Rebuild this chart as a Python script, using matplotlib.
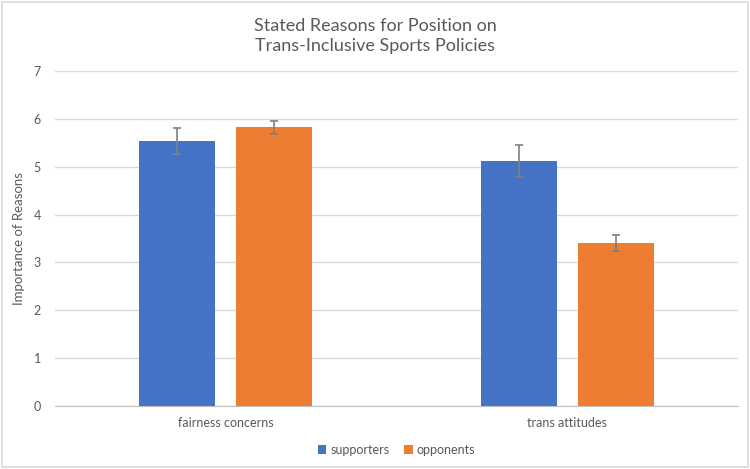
import numpy as np
import matplotlib.pyplot as plt
from matplotlib.patches import Rectangle

# Дані з графіка
categories = ['fairness concerns', 'trans attitudes']
supporters = [5.54, 5.12]
supporters_err = [0.27, 0.33]
opponents = [5.82, 3.41]
opponents_err = [0.14, 0.17]

plt.rcParams['font.family'] = ['Lato', 'DejaVu Sans']

fig = plt.figure(figsize=(7.5, 4.69), dpi=100)
ax = fig.add_axes([0.0733, 0.1343, 0.9107, 0.7143])

x = np.arange(len(categories))
w = 0.222
off = 0.142
err_kw = dict(ecolor='#7f7f7f', capsize=3, elinewidth=1.2, capthick=1.2)
ax.bar(x - off, supporters, w, yerr=supporters_err, color='#4472C4',
       label='supporters', error_kw=err_kw, zorder=2)
ax.bar(x + off, opponents, w, yerr=opponents_err, color='#ED7D31',
       label='opponents', error_kw=err_kw, zorder=2)

ax.set_xlim(-0.5, 1.5)
ax.set_ylim(0, 7)
ax.set_yticks(range(8))
ax.set_xticks(x)
ax.set_xticklabels(categories)
ax.grid(axis='y', color='#d9d9d9', linewidth=1, zorder=0)
ax.set_axisbelow(True)
for s in ['top', 'right', 'left']:
    ax.spines[s].set_visible(False)
ax.spines['bottom'].set_color('#bfbfbf')
ax.tick_params(axis='both', length=0, colors='#595959', labelsize=9)
ax.tick_params(axis='x', pad=8)
ax.tick_params(axis='y', pad=10)
ax.set_ylabel('Importance of Reasons', color='#595959', fontsize=9.5, labelpad=6)

fig.text(0.5, 0.944, 'Stated Reasons for Position on', ha='center', va='center',
         fontsize=13, color='#595959')
fig.text(0.5, 0.901, 'Trans-Inclusive Sports Policies', ha='center', va='center',
         fontsize=13, color='#595959')

ax.legend(loc='center', bbox_to_anchor=(0.5, -0.13), ncol=2, frameon=False,
          fontsize=9, labelcolor='#595959', handlelength=0.7, handleheight=0.7,
          handletextpad=0.3, columnspacing=1.2)

fig.patches.append(Rectangle((0.003, 0.004), 0.994, 0.992, transform=fig.transFigure,
                             fill=False, edgecolor='#d9d9d9', linewidth=1.2))

plt.savefig('out.png', dpi=100)
